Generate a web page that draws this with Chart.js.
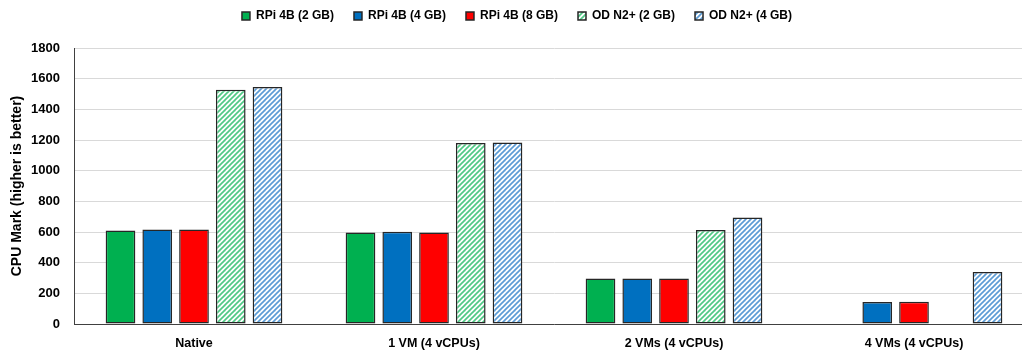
<!DOCTYPE html>
<html>
<head>
<meta charset="utf-8">
<script src="https://cdn.jsdelivr.net/npm/chart.js@4/dist/chart.umd.min.js"></script>
<style>
  html, body { margin: 0; padding: 0; background: #fff; overflow: hidden; }
  #wrap { position: relative; width: 1045px; height: 350px; }
</style>
</head>
<body>
<div id="wrap"><canvas id="chart"></canvas></div>
<script>
// Benchmark groups and CPU Mark scores (higher is better)
const categories = ['Native', '1 VM (4 vCPUs)', '2 VMs (4 vCPUs)', '4 VMs (4 vCPUs)'];
const seriesNames = ['RPi 4B (2 GB)', 'RPi 4B (4 GB)', 'RPi 4B (8 GB)', 'OD N2+ (2 GB)', 'OD N2+ (4 GB)'];
const rpi2gb = [610, 597, 297, null];
const rpi4gb = [617, 602, 297, 143];
const rpi8gb = [617, 597, 297, 145];
const odn2_2gb = [1528, 1180, 613, null];
const odn2_4gb = [1546, 1184, 695, 339];
const yTicks = [0, 200, 400, 600, 800, 1000, 1200, 1400, 1600, 1800];

const FONT = "'Liberation Sans', Arial, sans-serif";

// Diagonal stripe fill used for the Odroid series
function hatch(color) {
  const s = 5;
  const c = document.createElement('canvas');
  c.width = s; c.height = s;
  const g = c.getContext('2d');
  g.fillStyle = '#ffffff';
  g.fillRect(0, 0, s, s);
  g.strokeStyle = color;
  g.lineWidth = 1.7;
  for (const o of [-s, 0, s]) {
    g.beginPath();
    g.moveTo(o - 1, s + 1);
    g.lineTo(o + s + 1, -1);
    g.stroke();
  }
  return g.createPattern(c, 'repeat');
}

const edge = '#262626';
const fills = ['#00B050', '#0070C0', '#FF0000', hatch('#4fc985'), hatch('#5b9bd5')];
const values = [rpi2gb, rpi4gb, rpi8gb, odn2_2gb, odn2_4gb];

const datasets = seriesNames.map((name, i) => ({
  label: name,
  data: values[i],
  backgroundColor: fills[i],
  borderColor: edge,
  borderWidth: 1.5,
  borderSkipped: false,
  barPercentage: 0.808,
  categoryPercentage: 0.7656
}));

// Fix the legend band height so the plot starts at the same place
const legendHeight = {
  id: 'legendHeight',
  beforeInit(chart) {
    const origFit = chart.legend.fit;
    chart.legend.fit = function () {
      origFit.call(this);
      this.height = 58;
    };
  }
};

new Chart(document.getElementById('chart'), {
  type: 'bar',
  data: { labels: categories, datasets },
  plugins: [legendHeight],
  options: {
    responsive: true,
    maintainAspectRatio: false,
    animation: false,
    layout: { padding: { top: -10, right: 11, left: 0, bottom: 0 } },
    plugins: {
      legend: {
        position: 'top',
        labels: {
          boxWidth: 8,
          boxHeight: 8,
          padding: 20,
          color: '#000',
          font: { family: FONT, size: 12, weight: 'bold' }
        }
      },
      tooltip: { enabled: false }
    },
    scales: {
      x: {
        grid: { display: false, drawTicks: false },
        border: { display: true, color: '#404040', width: 1 },
        ticks: {
          color: '#000',
          padding: 12,
          maxRotation: 0,
          font: { family: FONT, size: 12.5, weight: 'bold' }
        },
        afterFit(scale) { scale.height = 26; }
      },
      y: {
        min: 0,
        max: 1800,
        afterBuildTicks(scale) { scale.ticks = yTicks.map(v => ({ value: v })); },
        grid: { color: '#d9d9d9', lineWidth: 1, drawTicks: false },
        border: { display: true, color: '#404040', width: 1 },
        ticks: {
          color: '#000',
          padding: 14,
          font: { family: FONT, size: 13, weight: 'bold' },
          callback: (v) => String(v)
        },
        title: {
          display: true,
          text: 'CPU Mark (higher is better)',
          color: '#000',
          padding: { top: 9, bottom: 0 },
          font: { family: FONT, size: 14, weight: 'bold' }
        },
        afterFit(scale) { scale.width = 74; }
      }
    }
  }
});
</script>
</body>
</html>
